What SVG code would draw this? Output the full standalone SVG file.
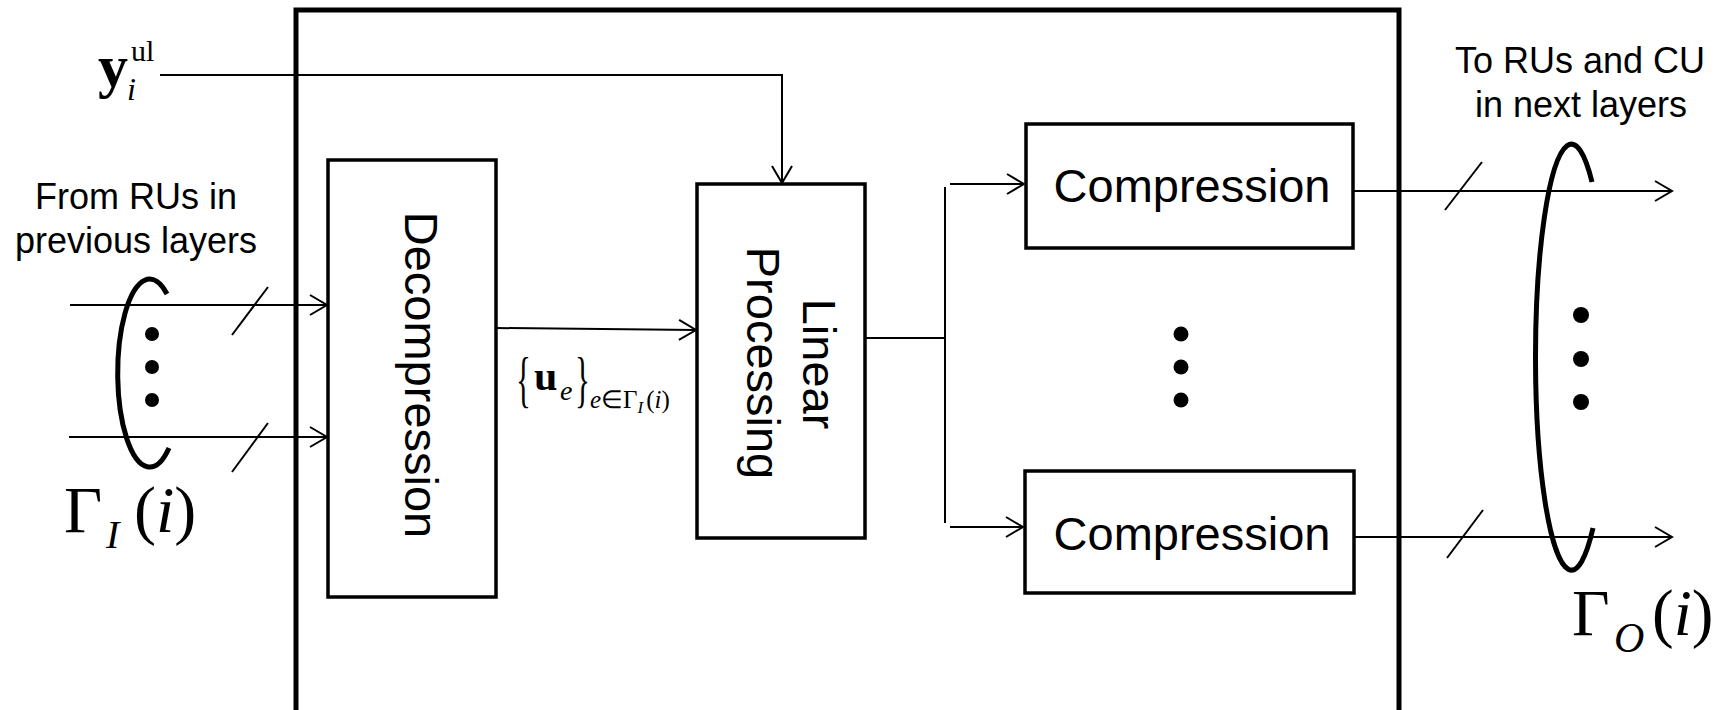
<svg xmlns="http://www.w3.org/2000/svg" width="1725" height="710" viewBox="0 0 1725 710">
<style>
.box{fill:#fff;stroke:#000;stroke-width:3.5}
.outer{fill:none;stroke:#000;stroke-width:5}
.ln{fill:none;stroke:#000;stroke-width:2}
.arr{fill:none;stroke:#000;stroke-width:2;marker-end:url(#ah)}
.ell{fill:none;stroke:#000;stroke-width:5}
.lbl{font-family:"Liberation Sans",Arial,sans-serif;font-size:47px;fill:#000;text-anchor:middle}
.side{font-family:"Liberation Sans",Arial,sans-serif;font-size:36px;fill:#000;text-anchor:middle}
.m{font-family:"Liberation Serif","Times New Roman",serif;fill:#000}
</style>
<defs>
<marker id="ah" markerUnits="userSpaceOnUse" viewBox="-20 -12 24 24" markerWidth="24" markerHeight="24" refX="0" refY="0" orient="auto">
<path d="M-17,-10 L0,0 L-17,10" fill="none" stroke="#000" stroke-width="2"/>
</marker>
</defs>
<rect class="outer" x="296" y="10" width="1103" height="730"/>
<g id="connectors">
<path class="arr" d="M160,75 H782 V183"/>
<path class="arr" d="M70,305 H327"/>
<path class="arr" d="M69,437 H327"/>
<path class="ln" d="M232,335 L268,287"/>
<path class="ln" d="M232,472 L268,423"/>
<path class="arr" d="M496,328 L696,330"/>
<path class="ln" d="M865,338 H945"/>
<path class="ln" d="M945,187 V523"/>
<path class="arr" d="M950,184 H1024"/>
<path class="arr" d="M950,527 H1023"/>
<path class="arr" d="M1353,191 H1672"/>
<path class="arr" d="M1355,537 H1672"/>
<path class="ln" d="M1445,210 L1482,162"/>
<path class="ln" d="M1447,558 L1483,510"/>
</g>
<g id="input-group">
<path class="ell" d="M167,294 A32,94 0 1 0 169,448"/>
<circle cx="152" cy="334" r="7"/>
<circle cx="152" cy="367" r="7"/>
<circle cx="152" cy="400" r="7"/>
<text class="side" x="136" y="209">From RUs in</text>
<text class="side" x="136" y="253">previous layers</text>
<text class="m" x="64" y="532" font-size="66">Γ</text>
<text class="m" x="106" y="548" font-size="40" font-style="italic">I</text>
<text class="m" x="134" y="532" font-size="66">(<tspan font-style="italic">i</tspan>)</text>
</g>
<g id="yul">
<text class="m" x="98" y="86" font-size="60" font-weight="bold">y</text>
<text class="m" x="131" y="61" font-size="30">ul</text>
<text class="m" x="127" y="100" font-size="32" font-style="italic">i</text>
</g>
<g id="decompression">
<rect class="box" x="328" y="160" width="168" height="437"/>
<text class="lbl" transform="translate(405,375) rotate(90)">Decompression</text>
</g>
<g id="ue-label">
<text class="m" font-size="62" transform="translate(516,400) scale(0.5,1)">{</text>
<text class="m" x="534" y="390" font-size="42" font-weight="bold">u</text>
<text class="m" x="560" y="400" font-size="28" font-style="italic">e</text>
<text class="m" font-size="62" transform="translate(575,400) scale(0.5,1)">}</text>
<text class="m" x="590" y="408" font-size="25"><tspan font-style="italic">e</tspan>∈Γ<tspan font-size="17" font-style="italic" dy="5">I</tspan><tspan dy="-5" dx="3">(</tspan><tspan font-style="italic">i</tspan>)</text>
</g>
<g id="linear-processing">
<rect class="box" x="697" y="184" width="168" height="354"/>
<text class="lbl" transform="translate(803,364) rotate(90)">Linear</text>
<text class="lbl" transform="translate(747,363) rotate(90)">Processing</text>
</g>
<g id="compression-1">
<rect class="box" x="1026" y="124" width="327" height="124"/>
<text class="lbl" x="1192" y="202">Compression</text>
</g>
<g id="dots-mid">
<circle cx="1181" cy="334" r="7.5"/>
<circle cx="1181" cy="367" r="7.5"/>
<circle cx="1181" cy="400" r="7.5"/>
</g>
<g id="compression-2">
<rect class="box" x="1025" y="471" width="329" height="122"/>
<text class="lbl" x="1192" y="550">Compression</text>
</g>
<g id="output-group">
<path class="ell" d="M1592,182 A36,213 0 1 0 1593,528"/>
<circle cx="1581" cy="315" r="8"/>
<circle cx="1581" cy="359" r="8"/>
<circle cx="1581" cy="402" r="8"/>
<text class="side" x="1580" y="73">To RUs and CU</text>
<text class="side" x="1581" y="117">in next layers</text>
<text class="m" x="1572" y="635" font-size="65">Γ</text>
<text class="m" x="1614" y="652" font-size="42" font-style="italic">O</text>
<text class="m" x="1652" y="635" font-size="65">(<tspan font-style="italic">i</tspan>)</text>
</g>
</svg>
